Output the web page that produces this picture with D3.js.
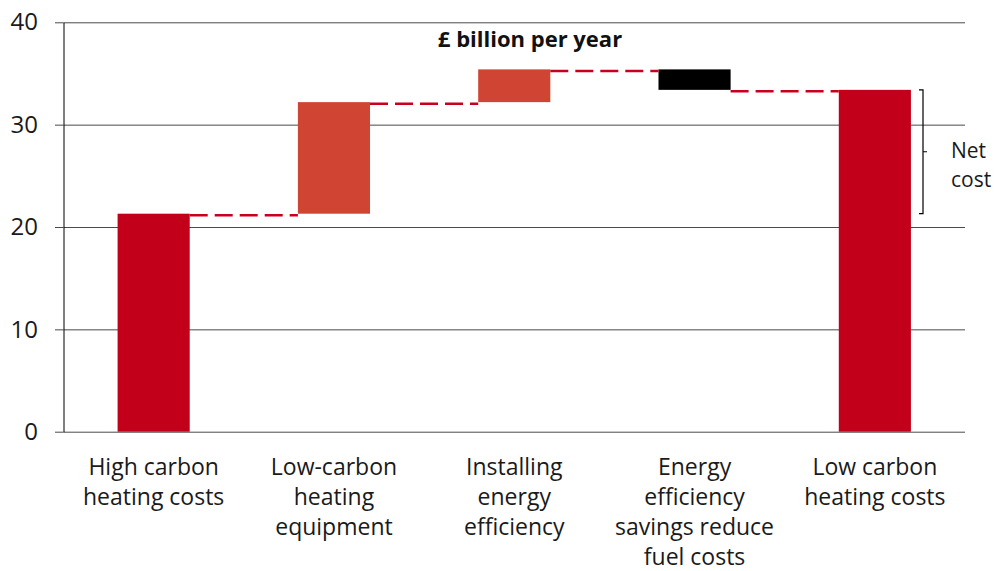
<!DOCTYPE html>
<html>
<head>
<meta charset="utf-8">
<script src="https://cdn.jsdelivr.net/npm/d3@7"></script>
<style>
  body { margin: 0; background: #fff; }
  svg { display: block; font-family: "Open Sans", "Noto Sans", sans-serif; }
</style>
</head>
<body>
<svg width="995" height="571"></svg>
<script>
// data (£ billion per year)
var categories = ["High carbon\nheating costs", "Low-carbon\nheating\nequipment", "Installing\nenergy\nefficiency",
                  "Energy\nefficiency\nsavings reduce\nfuel costs", "Low carbon\nheating costs"];
var steps = [21.3, 10.9, 3.2, -2.0, null];   // null = running total
var kinds = ["total", "increase", "increase", "decrease", "total"];
var yTicks = [0, 10, 20, 30, 40];

var colors = {total: "#c20019", increase: "#d04434", decrease: "#000000"};

var svg = d3.select("svg");

var x = d3.scaleBand().domain(categories).range([63.5, 965]).paddingInner(0.6).paddingOuter(0.3);
var y = d3.scaleLinear().domain([0, 40]).range([431.7, 22.3]);

// build waterfall rows
var run = 0;
var rows = categories.map(function(c, i) {
  var start, end;
  if (kinds[i] == "total") {
    if (steps[i] != null) run = steps[i];
    start = 0; end = run;
  } else {
    start = run; run = run + steps[i]; end = run;
  }
  return {cat: c, kind: kinds[i], start: start, end: end};
});

// gridlines
svg.append("g")
  .attr("transform", "translate(63.5,0)")
  .call(d3.axisLeft(y).tickValues(yTicks).tickSize(-901.5).tickFormat(""))
  .call(function(g) {
    g.select(".domain").remove();
    g.selectAll("line").attr("stroke", "#4a4a4a");
  });

// y axis
svg.append("g")
  .attr("transform", "translate(63.5,0)")
  .call(d3.axisLeft(y).tickValues(yTicks).tickSize(8.5).tickSizeOuter(0).tickPadding(17))
  .call(function(g) {
    g.select(".domain").attr("stroke", "#000");
    g.selectAll("line").attr("stroke", "#4a4a4a");
    g.selectAll("text").attr("font-size", 24).attr("fill", "#1a1a1a")
      .attr("font-family", "'Open Sans', sans-serif");
  });

// bars
svg.append("g").selectAll("rect")
  .data(rows)
  .join("rect")
  .attr("x", function(d) { return x(d.cat); })
  .attr("width", x.bandwidth())
  .attr("y", function(d) { return y(Math.max(d.start, d.end)); })
  .attr("height", function(d) { return Math.abs(y(d.start) - y(d.end)); })
  .attr("fill", function(d) { return colors[d.kind]; });

// connectors
var links = rows.slice(0, -1).map(function(d, i) { return {a: d, b: rows[i + 1], v: d.end}; });
svg.append("g").selectAll("line")
  .data(links)
  .join("line")
  .attr("x1", function(d) { return x(d.a.cat) + x.bandwidth(); })
  .attr("x2", function(d) { return x(d.b.cat); })
  .attr("y1", function(d) { return y(d.v) + 1.5; })
  .attr("y2", function(d) { return y(d.v) + 1.5; })
  .attr("stroke", "#c8001e")
  .attr("stroke-width", 2.5)
  .attr("stroke-dasharray", "18,7");

// x labels
svg.append("g")
  .attr("transform", "translate(0," + y(0) + ")")
  .call(d3.axisBottom(x).tickSize(0).tickSizeOuter(0))
  .call(function(g) {
    g.select(".domain").remove();
    g.selectAll("text").each(function(d) {
      var t = d3.select(this).text(null).attr("y", 0).attr("dy", null)
        .attr("font-size", 23).attr("fill", "#1a1a1a")
        .attr("font-family", "'Open Sans', sans-serif");
      d.split("\n").forEach(function(line, i) {
        t.append("tspan").attr("x", 0).attr("y", 43 + i * 30).text(line);
      });
    });
  });

// title
svg.append("text")
  .attr("x", 530).attr("y", 47)
  .attr("text-anchor", "middle")
  .attr("font-size", 22).attr("font-weight", "bold").attr("fill", "#111")
  .text("£ billion per year");

// net cost bracket
var last = rows[rows.length - 1], first = rows[0];
var bx = 923, yTop = y(last.end), yBot = y(first.end), yMid = (yTop + yBot) / 2;
svg.append("path")
  .attr("d", "M" + (bx - 4) + "," + yTop + "H" + bx + "V" + yBot + "H" + (bx - 4) +
             "M" + bx + "," + yMid + "H" + (bx + 4))
  .attr("fill", "none").attr("stroke", "#000").attr("stroke-width", 1.2);

svg.append("text")
  .attr("x", 951).attr("y", 158)
  .attr("font-size", 21).attr("fill", "#1a1a1a")
  .selectAll("tspan")
  .data(["Net", "cost"])
  .join("tspan")
  .attr("x", 951)
  .attr("dy", function(d, i) { return i ? 28.5 : 0; })
  .text(function(d) { return d; });
</script>
</body>
</html>
